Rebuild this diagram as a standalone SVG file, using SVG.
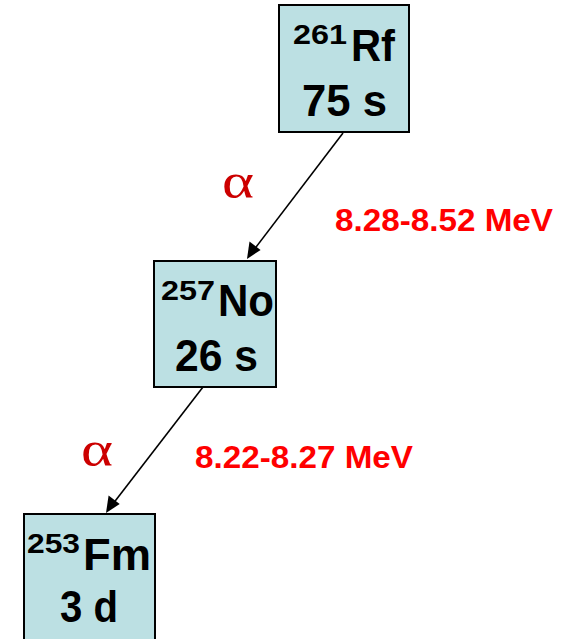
<svg xmlns="http://www.w3.org/2000/svg" width="570" height="639" viewBox="0 0 570 639">
  <style>
    .box { fill: #bce0e3; stroke: #000; stroke-width: 2; }
    .nuc { font-family: "Liberation Sans", Arial, sans-serif; font-weight: bold; fill: #000; }
    .sup { font-size: 28px; }
    .sym { font-size: 44px; }
    .half { font-size: 44px; }
    .alpha { font-family: "Liberation Serif", "Times New Roman", serif; font-size: 50px; fill: #cc0000; }
    .energy { font-family: "Liberation Sans", Arial, sans-serif; font-weight: bold; font-size: 32px; fill: #ff0000; }
    .edge { stroke: #000; stroke-width: 1.6; fill: none; }
    .head { fill: #000; }
  </style>
  <rect width="570" height="639" fill="#fff"/>

  <!-- decay connectors: shaft plus filled arrowhead -->
  <g id="connectors">
    <line class="edge" x1="343" y1="133" x2="250" y2="255"/>
    <path class="head" d="M247,259 L249.5,241.5 L260.6,250 z"/>
    <line class="edge" x1="203" y1="387" x2="109" y2="509"/>
    <path class="head" d="M106,513 L108.6,495.5 L119.7,504 z"/>
  </g>

  <g id="node-rf261">
    <rect class="box" x="279" y="5" width="130" height="127"/>
    <text class="nuc sup" x="293" y="44" textLength="54" lengthAdjust="spacingAndGlyphs">261</text>
    <text class="nuc sym" x="351" y="61" textLength="44" lengthAdjust="spacingAndGlyphs">Rf</text>
    <text class="nuc half" x="302" y="116" textLength="85" lengthAdjust="spacingAndGlyphs">75 s</text>
  </g>

  <g id="node-no257">
    <rect class="box" x="154" y="261" width="122" height="126"/>
    <text class="nuc sup" x="161" y="300" textLength="54" lengthAdjust="spacingAndGlyphs">257</text>
    <text class="nuc sym" x="218" y="316" textLength="56" lengthAdjust="spacingAndGlyphs">No</text>
    <text class="nuc half" x="175" y="371" textLength="83" lengthAdjust="spacingAndGlyphs">26 s</text>
  </g>

  <g id="node-fm253">
    <rect class="box" x="24" y="514" width="131" height="140"/>
    <text class="nuc sup" x="27" y="553" textLength="53" lengthAdjust="spacingAndGlyphs">253</text>
    <text class="nuc sym" x="83" y="570" textLength="68" lengthAdjust="spacingAndGlyphs">Fm</text>
    <text class="nuc half" x="60" y="622" textLength="58" lengthAdjust="spacingAndGlyphs">3 d</text>
  </g>

  <g id="labels">
    <text class="alpha" x="222" y="198" textLength="32" lengthAdjust="spacingAndGlyphs">α</text>
    <text class="energy" x="335" y="231" textLength="218" lengthAdjust="spacingAndGlyphs">8.28-8.52 MeV</text>
    <text class="alpha" x="81" y="466" textLength="32" lengthAdjust="spacingAndGlyphs">α</text>
    <text class="energy" x="195" y="468" textLength="218" lengthAdjust="spacingAndGlyphs">8.22-8.27 MeV</text>
  </g>
</svg>
